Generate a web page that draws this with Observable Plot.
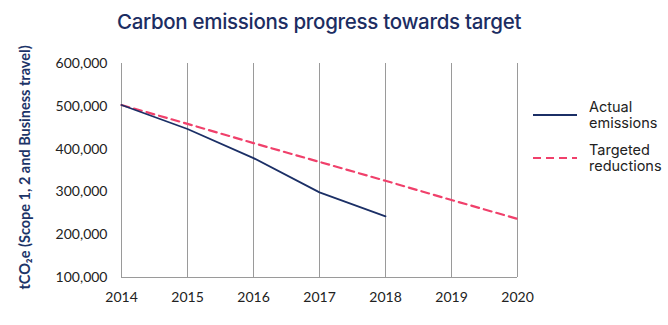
<!DOCTYPE html>
<html>
<head>
<meta charset="utf-8">
<script src="https://cdn.jsdelivr.net/npm/d3@7"></script>
<script src="https://cdn.jsdelivr.net/npm/@observablehq/plot@0.6"></script>
<style>
  html, body { margin: 0; padding: 0; background: #fff; }
  #wrap { position: relative; width: 668px; height: 325px; overflow: hidden; }
  #title { position: absolute; left: 0; top: 9px; width: 638px; text-align: center;
           font-family: Inter, "Noto Sans", sans-serif; font-size: 20.5px; font-weight: 500; color: #1c2d62; letter-spacing: -0.3px; }
  #chart { position: absolute; left: 0; top: 45px; }
  #legend { position: absolute; left: 533px; top: 99px; font-family: Inter, "Noto Sans", sans-serif;
            font-size: 14.5px; color: #222; line-height: 16px; }
  .item { display: flex; align-items: center; margin-bottom: 11px; }
  .item svg { margin-right: 12px; }
</style>
</head>
<body>
<div id="wrap">
  <div id="title">Carbon emissions progress towards target</div>
  <div id="chart"></div>
  <div id="legend"></div>
</div>
<script>
const years = [2014, 2015, 2016, 2017, 2018, 2019, 2020];
const actualYears = [2014, 2015, 2016, 2017, 2018];
const actual = [503000, 447000, 379000, 299000, 243000];
const target = [503000, 459000, 414000, 370000, 326000, 281000, 237000];
const yTicks = [100000, 200000, 300000, 400000, 500000, 600000];
const seriesNames = ["Actual\nemissions", "Targeted\nreductions"];
const seriesColors = ["#1b2f66", "#f0406b"];
const yLabel = "tCO\u2082e (Scope 1, 2 and Business travel)";

const actualData = actualYears.map((y, i) => ({year: y, value: actual[i]}));
const targetData = years.map((y, i) => ({year: y, value: target[i]}));

const plot = Plot.plot({
  width: 668,
  height: 280,
  marginLeft: 121,
  marginRight: 151,
  marginTop: 18,
  marginBottom: 48,
  style: {fontFamily: "Lato, sans-serif", fontSize: "14px", color: "#222", background: "transparent"},
  x: {domain: [2014, 2020], ticks: years, tickFormat: d => String(d), tickSize: 0, tickPadding: 15, label: null},
  y: {domain: [100000, 600000], ticks: yTicks, tickFormat: d3.format(","), tickSize: 0, tickPadding: 14, label: null},
  marks: [
    Plot.ruleX(years, {x: d => d, y1: 100000, y2: 600000, stroke: "#9a9a9a", strokeWidth: 1}),
    Plot.ruleY([100000], {stroke: "#9a9a9a", strokeWidth: 1}),
    Plot.line(targetData, {x: "year", y: "value", stroke: seriesColors[1], strokeWidth: 2.2, strokeDasharray: "8,5"}),
    Plot.line(actualData, {x: "year", y: "value", stroke: seriesColors[0], strokeWidth: 1.8}),
    Plot.text([yLabel], {frameAnchor: "left", dx: -96, dy: -3, rotate: -90, text: d => d, fill: "#1c3468",
      fontWeight: "bold", fontSize: 14.5, textAnchor: "middle"})
  ]
});
document.getElementById("chart").appendChild(plot);

const legend = document.getElementById("legend");
seriesNames.forEach((name, i) => {
  const item = document.createElement("div");
  item.className = "item";
  const dash = i === 1 ? 'stroke-dasharray="8,5"' : "";
  item.innerHTML = `<svg width="44" height="6"><line x1="0" y1="3" x2="44" y2="3" stroke="${seriesColors[i]}" stroke-width="2" ${dash}/></svg><span>${name.replace("\n", "<br>")}</span>`;
  legend.appendChild(item);
});
</script>
</body>
</html>
